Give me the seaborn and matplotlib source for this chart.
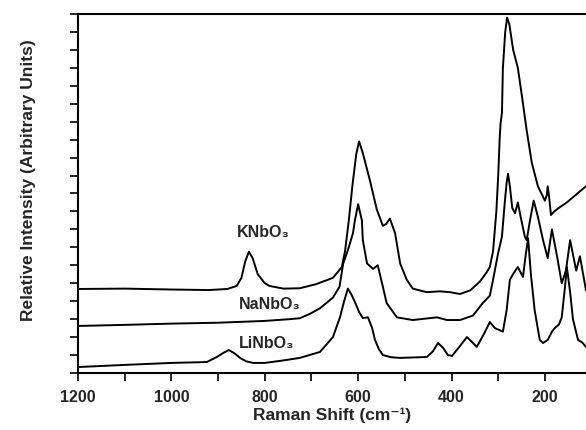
import numpy as np
import pandas as pd
import seaborn as sns
from matplotlib import pyplot as plt
from matplotlib.ticker import MultipleLocator, NullFormatter

# Raman shift (cm-1) and relative intensity
shift_k = [1200, 1100, 1000, 920, 880, 860, 850, 842, 834, 826, 815, 800, 790, 760, 725,
           690, 654, 635, 628, 620, 612, 604, 598, 590, 575, 560, 547, 540, 532, 521,
           510, 496, 483, 453, 425, 403, 382, 360, 339, 325, 318, 311, 304, 300, 297,
           295, 292, 290, 285, 281, 276, 268, 258, 248, 239, 228, 215, 200, 196, 194,
           191, 187, 180, 170, 153, 135, 112]
int_k = [4.68, 4.70, 4.65, 4.62, 4.68, 4.85, 5.3, 6.2, 6.76, 6.4, 5.5, 5.0, 4.85, 4.7, 4.72,
         4.95, 5.3, 5.9, 6.8, 8.5, 10.5, 12.2, 12.9, 12.25, 10.75, 9.1, 8.2, 8.3, 8.6, 7.8,
         6.1, 5.2, 4.7, 4.5, 4.55, 4.5, 4.4, 4.6, 5.1, 5.6, 5.9, 6.8, 9.0, 11.0, 13.0,
         13.9, 14.5, 17.0, 19.0, 19.8, 19.4, 18.0, 17.0, 15.2, 13.5, 11.7, 10.4, 9.6, 9.9, 10.4,
         9.8, 8.8, 9.0, 9.2, 9.5, 9.9, 10.4]

shift_na = [1200, 1100, 1000, 900, 800, 746, 725, 703, 682, 654, 640, 632, 620, 611, 607,
            600, 592, 590, 581, 568, 558, 547, 539, 517, 483, 431, 410, 382, 354, 333,
            318, 311, 300, 292, 286, 282, 279, 275, 270, 264, 258, 252, 243, 239, 232,
            224, 215, 204, 194, 185, 174, 164, 155, 146, 133, 125, 112]
int_na = [2.62, 2.68, 2.75, 2.8, 2.9, 3.0, 3.05, 3.3, 3.6, 4.2, 4.8, 6.1, 7.0, 7.8, 8.5,
          9.4, 8.5, 7.4, 6.1, 5.8, 6.0, 4.8, 3.9, 3.1, 2.95, 3.1, 2.95, 2.95, 3.2, 3.9,
          4.3, 5.2, 6.7, 7.6, 9.5, 10.6, 11.1, 10.4, 9.2, 8.9, 9.5, 8.7, 7.6, 7.4, 8.5,
          9.6, 8.7, 7.4, 6.4, 8.0, 6.5, 5.0, 5.7, 7.4, 5.7, 6.5, 4.6]

shift_li = [1200, 1100, 1000, 924, 902, 890, 877, 865, 853, 840, 825, 800, 760, 725, 682,
            654, 639, 630, 622, 615, 607, 598, 590, 579, 570, 564, 555, 547, 530, 511,
            453, 440, 429, 418, 408, 399, 385, 367, 355, 346, 330, 318, 307, 290, 282,
            275, 266, 258, 247, 241, 236, 230, 222, 211, 204, 194, 185, 179, 170, 164,
            157, 153, 146, 140, 129, 120, 112]
int_li = [0.33, 0.45, 0.56, 0.61, 0.9, 1.1, 1.28, 1.1, 0.84, 0.65, 0.56, 0.56, 0.7, 0.84, 1.17,
          2.0, 3.1, 4.0, 4.7, 4.4, 3.96, 3.4, 3.06, 3.1, 2.5, 1.84, 1.3, 1.0, 0.88, 0.84,
          0.89, 1.2, 1.67, 1.4, 1.0, 0.95, 1.4, 2.0, 1.7, 1.45, 2.2, 2.84, 2.5, 2.3, 3.5,
          5.2, 5.6, 5.9, 5.35, 6.6, 7.5, 5.5, 3.5, 1.84, 1.67, 1.84, 2.3, 2.5, 2.7, 3.1,
          4.8, 5.9, 4.5, 3.0, 1.84, 1.7, 1.45]

labels = ['KNbO\u2083', 'NaNbO\u2083', 'LiNbO\u2083']
label_pos = [(804, 7.85), (789, 3.84), (795, 1.67)]

sns.set_style('ticks')
plt.rcParams['font.family'] = ['Liberation Sans', 'DejaVu Sans']

fig = plt.figure(figsize=(5.86, 4.30), dpi=100)
ax = fig.add_axes([0.1331, 0.1326, 0.8669, 0.8349])

for x, y in [(shift_k, int_k), (shift_na, int_na), (shift_li, int_li)]:
    sns.lineplot(x=x, y=y, ax=ax, color='black', linewidth=1.4,
                 sort=False, estimator=None)

for text, (xv, yv) in zip(labels, label_pos):
    ax.text(xv, yv, text, ha='center', va='center', fontsize=11.5, fontweight='bold')

ax.set_xlim(1200, 112)
ax.set_ylim(0, 20)
ax.xaxis.set_major_locator(MultipleLocator(200))
ax.xaxis.set_minor_locator(MultipleLocator(100))
ax.yaxis.set_major_locator(MultipleLocator(1))
ax.yaxis.set_major_formatter(NullFormatter())
ax.tick_params(axis='both', which='both', direction='out', length=6, width=1.2, color='black')
ax.tick_params(axis='x', labelsize=11.5, pad=6)
for lab in ax.get_xticklabels():
    lab.set_fontweight('bold')

ax.spines['right'].set_visible(False)
for s in ['left', 'bottom', 'top']:
    ax.spines[s].set_linewidth(1.5)
    ax.spines[s].set_color('black')

ax.set_xlabel('Raman Shift (cm\u207b\u00b9)', fontsize=12.5, fontweight='bold', labelpad=2)
ax.set_ylabel('Relative Intensity (Arbitrary Units)', fontsize=12.5, fontweight='bold')
ax.yaxis.set_label_coords(-0.082, 0.537)

fig.savefig('out.png', dpi=100)
